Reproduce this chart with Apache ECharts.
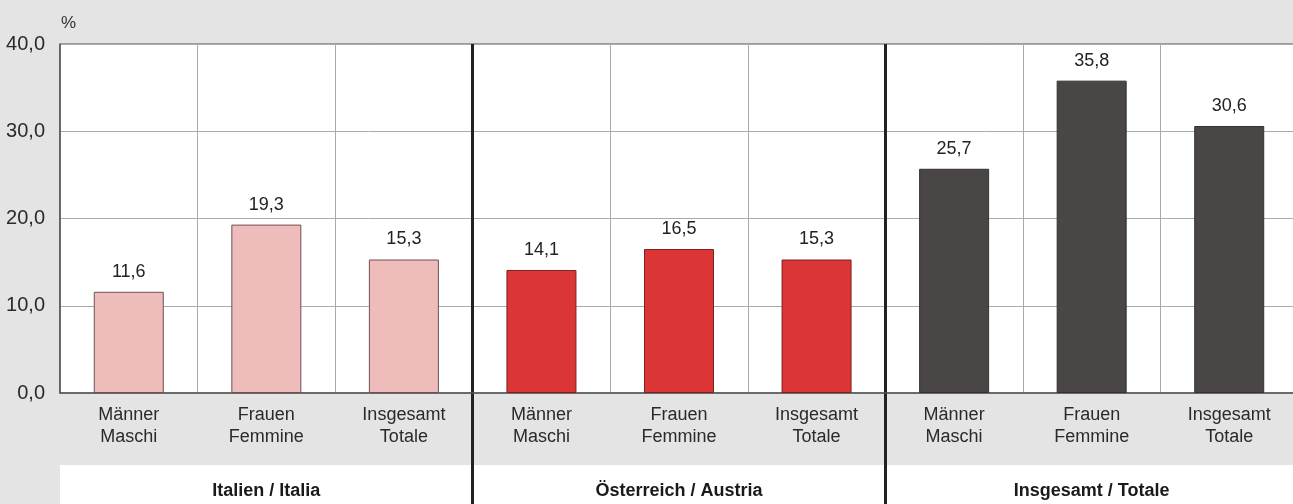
<!DOCTYPE html>
<html>
<head>
<meta charset="utf-8">
<script src="https://cdn.jsdelivr.net/npm/echarts@6/dist/echarts.min.js"></script>
<style>
  html, body { margin: 0; padding: 0; background: #e4e4e4; }
  #chart { width: 1293px; height: 504px; }
</style>
</head>
<body>
<div id="chart"></div>
<script>
// Werte in % / valori in %
var categories = ['Männer\nMaschi', 'Frauen\nFemmine', 'Insgesamt\nTotale'];
var groups = ['Italien / Italia', 'Österreich / Austria', 'Insgesamt / Totale'];
var italien = [11.6, 19.3, 15.3];
var oesterreich = [14.1, 16.5, 15.3];
var insgesamt = [25.7, 35.8, 30.6];
var yTicks = [0, 10, 20, 30, 40];

var groupColors = ['#efbcbc', '#dc3535', '#4a4645'];
var groupBorders = ['#6e5050', '#7a2222', '#333333'];

function fmt(v) {
    return Number(v).toFixed(1).replace('.', ',');
}

var allCats = [];
var allData = [];
[italien, oesterreich, insgesamt].forEach(function (vals, g) {
    vals.forEach(function (v, i) {
        allCats.push(categories[i]);
        allData.push({
            value: v,
            itemStyle: { color: groupColors[g], borderColor: groupBorders[g], borderWidth: 1 }
        });
    });
});

var chart = echarts.init(document.getElementById('chart'));
var font = 'Liberation Sans, Arial, sans-serif';

var option = {
    backgroundColor: '#e4e4e4',
    textStyle: { fontFamily: font },
    animation: false,
    graphic: [{
        type: 'rect',
        z: -10,
        shape: { x: 60, y: 465, width: 1250, height: 39 },
        style: { fill: '#ffffff' }
    }],
    grid: [
        { left: 60, top: 44, width: 1238, height: 349, outerBoundsMode: 'none', containLabel: false,
          show: true, backgroundColor: '#ffffff', borderColor: '#555555', borderWidth: 1 },
        { left: 60, top: 393, width: 1238, height: 111, outerBoundsMode: 'none', containLabel: false }
    ],
    xAxis: [
        {
            type: 'category', gridIndex: 0, data: allCats,
            axisLine: { show: true, lineStyle: { color: '#555555', width: 1.5 } },
            axisTick: { show: false },
            splitLine: { show: true, lineStyle: { color: '#aaaaaa', width: 1 } },
            axisLabel: { fontSize: 18, color: '#2a2a2a', lineHeight: 22, margin: 11, interval: 0, fontFamily: font }
        },
        {
            type: 'category', gridIndex: 0, data: groups, position: 'top',
            axisLine: { show: false }, axisTick: { show: false }, axisLabel: { show: false },
            splitLine: { show: true, interval: function (i) { return i > 0; }, lineStyle: { color: '#222222', width: 3 } }
        },
        {
            type: 'category', gridIndex: 1, data: groups,
            axisLine: { show: false }, axisTick: { show: false },
            splitLine: { show: true, interval: function (i) { return i > 0; }, lineStyle: { color: '#222222', width: 3 } },
            axisLabel: { inside: true, margin: 4, fontSize: 18, fontWeight: 'bold', color: '#1a1a1a', fontFamily: font }
        }
    ],
    yAxis: [
        {
            type: 'value', gridIndex: 0,
            min: yTicks[0], max: yTicks[yTicks.length - 1], interval: 10,
            name: '%', nameLocation: 'end', nameGap: 12,
            nameTextStyle: { fontSize: 17, color: '#333333', align: 'left', padding: [0, 0, 0, 1], fontFamily: font },
            axisLine: { show: true, lineStyle: { color: '#555555', width: 1.5 } },
            axisTick: { show: false },
            splitLine: { show: true, lineStyle: { color: '#aaaaaa', width: 1 } },
            axisLabel: { fontSize: 20, color: '#2a2a2a', margin: 15, formatter: fmt, fontFamily: font }
        },
        { type: 'value', gridIndex: 1, show: false }
    ],
    series: [{
        type: 'bar',
        xAxisIndex: 0, yAxisIndex: 0,
        data: allData,
        barWidth: 70,
        label: {
            show: true, position: 'top', distance: 11,
            fontSize: 18, color: '#222222', fontFamily: font,
            formatter: function (p) { return fmt(p.value); }
        }
    }]
};
chart.setOption(option);
</script>
</body>
</html>
